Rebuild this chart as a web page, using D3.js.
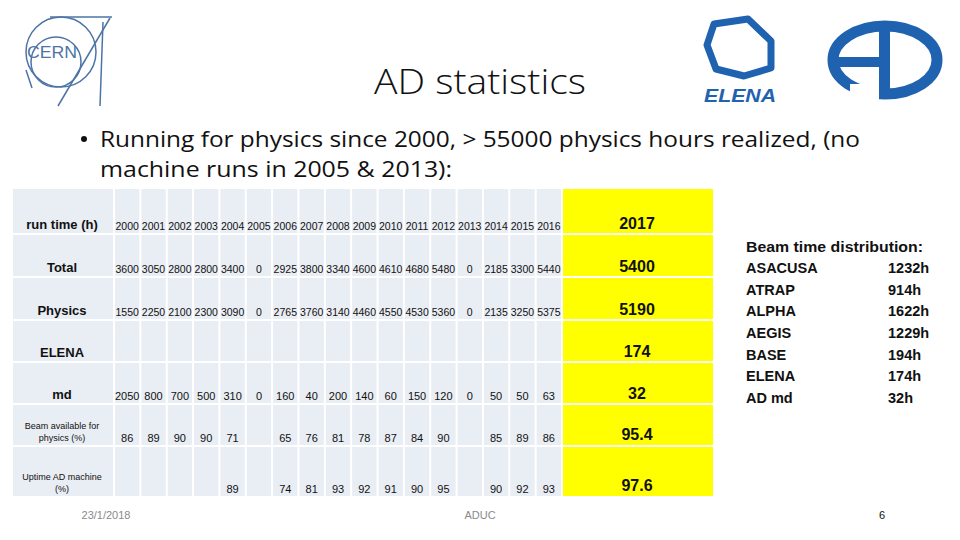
<!DOCTYPE html>
<meta charset="utf-8">
<head>
	<title>AD statistics</title>
	<script type="text/javascript" src="https://d3js.org/d3.v7.min.js"></script>
	<style>
		body { margin: 0; background: #fff; }
		svg text { font-family: "Liberation Sans", Arial, sans-serif; fill: #111; }
		.foot { fill: #8a8a8a; font-size: 11px; }
	</style>
</head>
<body>
<div id="slide"></div>
<script>
	// table data
	var years = ["2000","2001","2002","2003","2004","2005","2006","2007","2008","2009","2010","2011","2012","2013","2014","2015","2016"];
	var rowLabels = ["run time (h)", "Total", "Physics", "ELENA", "md", "Beam available for|physics (%)", "Uptime AD machine|(%)"];
	var total   = [3600,3050,2800,2800,3400,0,2925,3800,3340,4600,4610,4680,5480,0,2185,3300,5440];
	var physics = [1550,2250,2100,2300,3090,0,2765,3760,3140,4460,4550,4530,5360,0,2135,3250,5375];
	var elena   = [null,null,null,null,null,null,null,null,null,null,null,null,null,null,null,null,null];
	var md      = [2050,800,700,500,310,0,160,40,200,140,60,150,120,0,50,50,63];
	var beam    = [86,89,90,90,71,null,65,76,81,78,87,84,90,null,85,89,86];
	var uptime  = [null,null,null,null,89,null,74,81,93,92,91,90,95,null,90,92,93];
	var col2017 = ["2017","5400","5190","174","32","95.4","97.6"];

	// beam time distribution
	var expNames = ["ASACUSA","ATRAP","ALPHA","AEGIS","BASE","ELENA","AD md"];
	var expHours = [1232,914,1622,1229,194,174,32];

	var rows = [years, total, physics, elena, md, beam, uptime];

	var width = 960, height = 540;
	var svg = d3.select("#slide").append("svg")
		.attr("width", width)
		.attr("height", height);

	// header
	svg.append("text").attr("x", 480).attr("y", 94).attr("text-anchor", "middle")
		.style("font-family", "'Open Sans', sans-serif").style("font-weight", 300)
		.style("font-size", "35px").attr("textLength", 212).attr("lengthAdjust", "spacingAndGlyphs")
		.text("AD statistics");

	svg.append("circle").attr("cx", 84).attr("cy", 139).attr("r", 3).attr("fill", "#111");
	svg.append("text").attr("x", 100).attr("y", 147)
		.style("font-family", "'Open Sans', sans-serif").style("font-size", "22px")
		.attr("textLength", 760).attr("lengthAdjust", "spacingAndGlyphs")
		.text("Running for physics since 2000, > 55000 physics hours realized, (no");
	svg.append("text").attr("x", 100).attr("y", 177)
		.style("font-family", "'Open Sans', sans-serif").style("font-size", "22px")
		.attr("textLength", 352).attr("lengthAdjust", "spacingAndGlyphs")
		.text("machine runs in 2005 & 2013):");

	// logos (rough)
	var cern = svg.append("g").attr("fill", "none").attr("stroke", "#4d74a6").attr("stroke-width", 1.5);
	cern.append("circle").attr("cx", 61).attr("cy", 52).attr("r", 35);
	cern.append("circle").attr("cx", 56).attr("cy", 62).attr("r", 25);
	cern.append("line").attr("x1", 50).attr("y1", 17).attr("x2", 112).attr("y2", 17);
	cern.append("line").attr("x1", 103).attr("y1", 22).attr("x2", 100).attr("y2", 106);
	cern.append("line").attr("x1", 110).attr("y1", 18).attr("x2", 58).attr("y2", 106);
	cern.append("line").attr("x1", 26).attr("y1", 70).attr("x2", 32).attr("y2", 88);
	svg.append("text").attr("x", 52).attr("y", 58).attr("text-anchor", "middle")
		.style("font-size", "16px").style("fill", "#4d74a6")
		.attr("textLength", 50).attr("lengthAdjust", "spacingAndGlyphs").text("CERN");

	var blue = "#1f62b0";
	svg.append("path")
		.attr("d", "M714,24 L748,19 L771,41 L771,68 L744,76 L716,69 L707,45 Z")
		.attr("fill", "none").attr("stroke", blue).attr("stroke-width", 7).attr("stroke-linejoin", "round");
	svg.append("text").attr("x", 704).attr("y", 102)
		.style("font-size", "19px").style("font-weight", "bold").style("font-style", "italic").style("fill", blue)
		.attr("textLength", 72).attr("lengthAdjust", "spacingAndGlyphs").text("ELENA");

	svg.append("ellipse").attr("cx", 885).attr("cy", 60).attr("rx", 52).attr("ry", 34)
		.attr("fill", "none").attr("stroke", blue).attr("stroke-width", 11);
	svg.append("rect").attr("x", 850).attr("y", 84).attr("width", 29).attr("height", 18).attr("fill", "#fff");
	svg.append("rect").attr("x", 879).attr("y", 22).attr("width", 11).attr("height", 77).attr("fill", blue);
	svg.append("rect").attr("x", 836).attr("y", 57).attr("width", 45).attr("height", 10).attr("fill", blue);

	// table
	var x = d3.scaleBand().domain(years).range([114, 562]);
	var rowEdges = [188, 234, 277, 320, 362, 404, 446, 497];
	var cellFill = "#e9edf4";
	var table = svg.append("g");

	var rowG = table.selectAll("g.row").data(rows).enter().append("g").attr("class", "row");

	// label column
	rowG.append("rect")
		.attr("x", 13).attr("width", 100)
		.attr("y", function(d, i) { return rowEdges[i] + 1; })
		.attr("height", function(d, i) { return rowEdges[i + 1] - rowEdges[i] - 2; })
		.attr("fill", cellFill);

	rowG.each(function(d, i) {
		var g = d3.select(this);
		var bottom = rowEdges[i + 1];
		var parts = rowLabels[i].split("|");
		if (parts.length == 1) {
			g.append("text").attr("x", 62).attr("y", bottom - 5).attr("text-anchor", "middle")
				.style("font-size", "13px")
				.style("font-weight", "bold")
				.text(parts[0]);
		} else {
			g.append("text").attr("x", 62).attr("y", bottom - 17).attr("text-anchor", "middle")
				.style("font-size", "9px").text(parts[0]);
			g.append("text").attr("x", 62).attr("y", bottom - 5).attr("text-anchor", "middle")
				.style("font-size", "9px").text(parts[1]);
		}

		// year cells
		g.selectAll("rect.cell").data(years).enter().append("rect").attr("class", "cell")
			.attr("x", function(y) { return x(y) + 1; })
			.attr("y", rowEdges[i] + 1)
			.attr("width", x.bandwidth() - 2)
			.attr("height", bottom - rowEdges[i] - 2)
			.attr("fill", cellFill);

		g.selectAll("text.val").data(d).enter().append("text").attr("class", "val")
			.attr("x", function(v, j) { return x(years[j]) + x.bandwidth() / 2; })
			.attr("y", bottom - 4)
			.attr("text-anchor", "middle")
			.style("font-size", i < 4 ? "10.5px" : "11px")
			.text(function(v) { return v == null ? "" : v; });

		// 2017 column
		g.append("rect").attr("x", 563).attr("y", rowEdges[i] + 1)
			.attr("width", 150).attr("height", bottom - rowEdges[i] - 2)
			.attr("fill", "#ffff00");
		g.append("text").attr("x", 637).attr("y", bottom - (i >= 5 ? 6 : 5))
			.attr("text-anchor", "middle")
			.style("font-size", "16px").style("font-weight", "bold")
			.text(col2017[i]);
	});

	// beam time distribution
	var dist = svg.append("g").style("font-size", "14.5px").style("font-weight", "bold");
	dist.append("text").attr("x", 746).attr("y", 252)
		.attr("textLength", 177).attr("lengthAdjust", "spacingAndGlyphs")
		.text("Beam time distribution:");
	var yDist = d3.scalePoint().domain(expNames).range([273, 403]);
	dist.selectAll("text.name").data(expNames).enter().append("text").attr("class", "name")
		.attr("x", 746).attr("y", function(d) { return yDist(d); }).text(function(d) { return d; });
	dist.selectAll("text.hrs").data(expHours).enter().append("text").attr("class", "hrs")
		.attr("x", 888).attr("y", function(d, i) { return yDist(expNames[i]); })
		.text(function(d) { return d + "h"; });

	// footer
	svg.append("text").attr("class", "foot").attr("x", 106).attr("y", 519).attr("text-anchor", "middle").text("23/1/2018");
	svg.append("text").attr("class", "foot").attr("x", 480).attr("y", 519).attr("text-anchor", "middle").text("ADUC");
	svg.append("text").attr("x", 882).attr("y", 519).attr("text-anchor", "middle").style("font-size", "11px").text("6");
</script>
</body>
</html>
